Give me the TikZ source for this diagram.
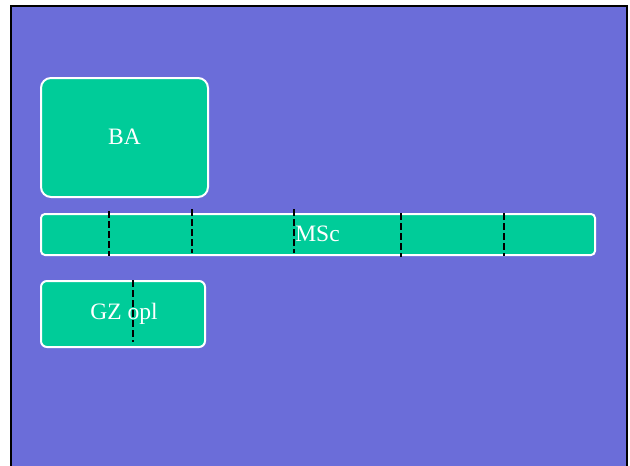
\documentclass[tikz,border=0pt]{standalone}
\usepackage{fontspec}
\setmainfont{Liberation Serif}
\definecolor{bgpurple}{HTML}{6B6DD9}
\definecolor{boxgreen}{HTML}{00CC99}
\tikzset{
  greenbox/.style={draw=white, line width=2pt, fill=boxgreen},
  boxlabel/.style={text=white, inner sep=0pt, font=\fontsize{23.5}{28}\selectfont},
  cutline/.style={draw=black, line width=2.2pt, dash pattern=on 7pt off 3pt}
}
\begin{document}
\begin{tikzpicture}[x=1pt,y=-1pt]
\useasboundingbox (0,0) rectangle (630,466);
\fill[white] (0,0) rectangle (630,466);
\draw[line width=2.2pt, fill=bgpurple] (11,6) rectangle (627,475);
% boxes
\draw[greenbox, rounded corners=10pt] (41,78) rectangle (208,197);
\node[boxlabel] (ba) at (124.5,137) {BA};
\draw[greenbox, rounded corners=4pt] (41,214) rectangle (595,255);
\node[boxlabel] (msc) at (317.5,234) {MSc};
\draw[greenbox, rounded corners=6pt] (41,281) rectangle (205,347);
\node[boxlabel] (gz) at (124,314) {GZ opl};
% dashed lines
\draw[cutline] (109,211) -- (109,256);
\draw[cutline] (192,209) -- (192,253);
\draw[cutline] (294,209) -- (294,253);
\draw[cutline] (401,213) -- (401,257);
\draw[cutline] (504,213) -- (504,256);
\draw[cutline] (133,280) -- (133,342);
\end{tikzpicture}
\end{document}
